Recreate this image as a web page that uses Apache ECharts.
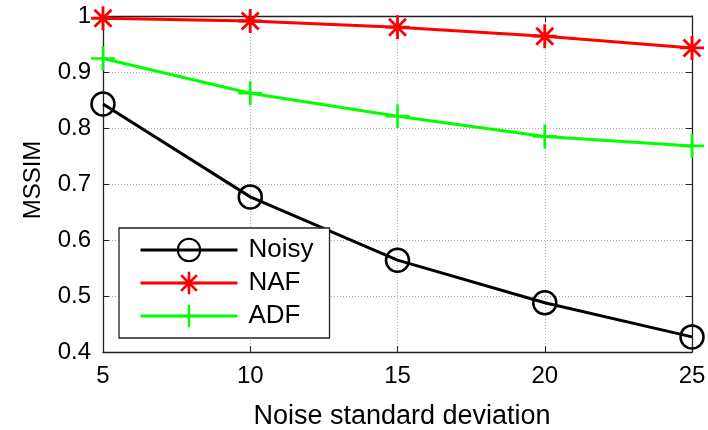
<!DOCTYPE html>
<html><head><meta charset="utf-8">
<script src="https://cdn.jsdelivr.net/npm/echarts@6/dist/echarts.min.js"></script>
<style>html,body{margin:0;padding:0;background:#fff}#c{width:708px;height:430px}</style>
</head><body><div id="c"></div>
<script>
const noiseLevels = [5, 10, 15, 20, 25];
const noisyValues = [0.843, 0.677, 0.564, 0.488, 0.427];
const nafValues = [0.996, 0.991, 0.980, 0.964, 0.943];
const adfValues = [0.924, 0.862, 0.821, 0.785, 0.768];
const seriesNames = ['Noisy', 'NAF', 'ADF'];
const xTicks = [5, 10, 15, 20, 25];
const yTicks = [0.4, 0.5, 0.6, 0.7, 0.8, 0.9, 1];

function bar(angleDeg, r, t) {
  const a = angleDeg * Math.PI / 180, c = Math.cos(a), s = Math.sin(a);
  const pts = [[-r, -t], [r, -t], [r, t], [-r, t]].map(([x, y]) => [x * c - y * s, x * s + y * c]);
  return 'M' + pts.map(p => p[0].toFixed(3) + ',' + p[1].toFixed(3)).join(' L') + ' Z';
}
const starPath = 'path://' + [0, 45, 90, 135].map(a => bar(a, 11, 1.3)).join(' ');
const plusPath = 'path://' + [0, 90].map(a => bar(a, 11, 1.2)).join(' ');

const font = '"Liberation Sans", Arial, sans-serif';
const pair = arr => noiseLevels.map((x, i) => [x, arr[i]]);

const chart = echarts.init(document.getElementById('c'), null, {renderer: 'canvas'});
const axisCommonLine = {show: true, lineStyle: {color: '#222', width: 1.3}};
chart.setOption({
  animation: false,
  backgroundColor: '#fff',
  grid: {left: 103, right: 16, top: 16, bottom: 78, containLabel: false, outerBoundsMode: 'none'},
  xAxis: [{
    type: 'value', min: 5, max: 25, interval: 5, position: 'bottom',
    name: 'Noise standard deviation', nameLocation: 'middle', nameGap: 51,
    nameTextStyle: {fontSize: 27, color: '#000', fontFamily: font, padding: [0, 0, 0, 9]},
    axisLine: axisCommonLine,
    axisTick: {show: true, inside: true, length: 6, lineStyle: {color: '#222'}},
    axisLabel: {fontSize: 24, color: '#000', fontFamily: font, margin: 12,
      formatter: v => xTicks.includes(v) ? String(v) : ''},
    splitLine: {show: true, lineStyle: {type: [1, 2], color: '#aaa', width: 1}}
  }, {
    type: 'value', min: 5, max: 25, interval: 5, position: 'top',
    axisLine: axisCommonLine,
    axisTick: {show: true, inside: true, length: 6, lineStyle: {color: '#222'}},
    axisLabel: {show: false}, splitLine: {show: false}
  }],
  yAxis: [{
    type: 'value', min: 0.4, max: 1, interval: 0.1, position: 'left',
    name: 'MSSIM', nameLocation: 'middle', nameGap: 58, nameRotate: 90,
    nameTextStyle: {fontSize: 24, color: '#000', fontFamily: font, padding: [0, 0, 0, 8]},
    axisLine: axisCommonLine,
    axisTick: {show: true, inside: true, length: 6, lineStyle: {color: '#222'}},
    axisLabel: {fontSize: 24, color: '#000', fontFamily: font, margin: 12,
      formatter: v => { const r = Math.round(v * 10) / 10; return yTicks.includes(r) ? String(r) : ''; }},
    splitLine: {show: true, lineStyle: {type: [1, 2], color: '#aaa', width: 1}}
  }, {
    type: 'value', min: 0.4, max: 1, interval: 0.1, position: 'right',
    axisLine: axisCommonLine,
    axisTick: {show: true, inside: true, length: 6, lineStyle: {color: '#222'}},
    axisLabel: {show: false}, splitLine: {show: false}
  }],
  legend: {
    orient: 'vertical', left: 119, top: 228,
    backgroundColor: '#fff', borderColor: '#222', borderWidth: 1.3,
    padding: [9, 16, 9, 20], itemWidth: 97, itemHeight: 28, itemGap: 7,
    lineStyle: {width: 3},
    textStyle: {fontSize: 26, color: '#000', fontFamily: font, padding: [0, 0, 0, 6]},
    data: seriesNames
  },
  series: [{
    name: seriesNames[0], type: 'line', data: pair(noisyValues),
    symbol: 'circle', symbolSize: 23,
    lineStyle: {color: '#000', width: 3},
    itemStyle: {color: 'rgba(0,0,0,0)', borderColor: '#000', borderWidth: 2.5},
    z: 3
  }, {
    name: seriesNames[1], type: 'line', data: pair(nafValues),
    symbol: starPath, symbolSize: 24,
    lineStyle: {color: '#ff0000', width: 3},
    itemStyle: {color: '#ff0000', borderWidth: 0},
    z: 4
  }, {
    name: seriesNames[2], type: 'line', data: pair(adfValues),
    symbol: plusPath, symbolSize: 24,
    lineStyle: {color: '#00ff00', width: 3},
    itemStyle: {color: '#00ff00', borderWidth: 0},
    z: 2
  }]
});
</script></body></html>
